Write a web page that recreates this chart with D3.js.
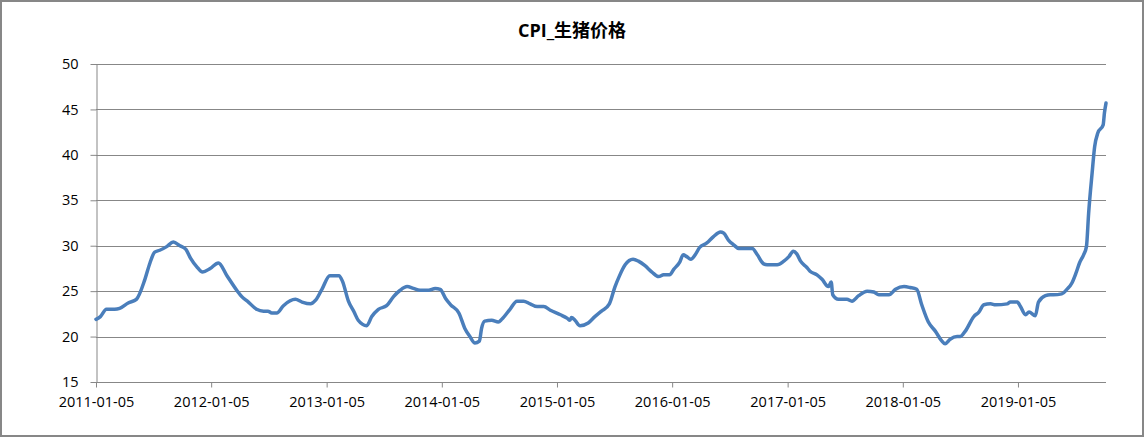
<!DOCTYPE html>
<html lang="zh">
<head>
<meta charset="utf-8">
<title>CPI_生猪价格</title>
<script src="https://d3js.org/d3.v7.min.js"></script>
<style>
  html, body { margin: 0; padding: 0; background: #fff; }
  svg text { font-family: "Open Sans", "Liberation Sans", sans-serif; fill: #000; }
  .grid line { stroke: #878787; stroke-width: 1; }
  .axis path, .axis line { stroke: #878787; }
</style>
</head>
<body>
<div id="chart"></div>
<script>
// weekly hog price
var dates = [
  "2011-01-05","2011-01-19","2011-02-07","2011-03-05","2011-03-21","2011-04-17","2011-05-13","2011-06-09",
  "2011-06-25","2011-07-10","2011-07-26","2011-08-17","2011-09-07","2011-09-28","2011-10-17","2011-11-01",
  "2011-11-20","2011-12-09","2012-01-02","2012-01-28","2012-02-24","2012-03-26","2012-04-11","2012-05-02",
  "2012-05-28","2012-06-19","2012-07-03","2012-07-15","2012-07-31","2012-08-21","2012-09-28","2012-10-19",
  "2012-11-15","2012-12-01","2012-12-21","2013-01-15","2013-02-13","2013-02-24","2013-03-15","2013-04-02",
  "2013-04-15","2013-05-12","2013-05-28","2013-06-18","2013-07-14","2013-08-05","2013-08-26","2013-09-17",
  "2013-10-07","2013-10-28","2013-11-24","2013-12-15","2013-12-31","2014-01-17","2014-02-02","2014-02-28",
  "2014-03-19","2014-04-04","2014-04-20","2014-05-04","2014-05-11","2014-05-21","2014-06-12","2014-07-03",
  "2014-07-14","2014-08-09","2014-08-31","2014-09-21","2014-10-12","2014-11-03","2014-11-24","2014-12-15",
  "2015-01-16","2015-02-07","2015-02-15","2015-02-20","2015-03-03","2015-03-19","2015-04-14","2015-05-05",
  "2015-05-26","2015-06-20","2015-07-08","2015-07-21","2015-08-09","2015-09-03","2015-09-20","2015-10-11",
  "2015-11-02","2015-11-23","2015-12-09","2015-12-28","2016-01-10","2016-01-29","2016-02-09","2016-02-20",
  "2016-03-04","2016-03-18","2016-04-01","2016-04-24","2016-05-15","2016-06-06","2016-06-16","2016-07-02",
  "2016-07-18","2016-08-03","2016-09-15","2016-10-01","2016-10-21","2016-11-01","2016-12-03","2016-12-24",
  "2017-01-09","2017-01-23","2017-02-03","2017-02-15","2017-03-07","2017-03-17","2017-04-08","2017-04-24",
  "2017-05-14","2017-05-23","2017-05-28","2017-06-15","2017-07-12","2017-07-28","2017-08-18","2017-09-14",
  "2017-10-05","2017-10-21","2017-11-22","2017-12-13","2018-01-09","2018-01-28","2018-02-18","2018-03-06",
  "2018-03-27","2018-04-18","2018-05-09","2018-05-19","2018-06-04","2018-06-26","2018-07-06","2018-07-22",
  "2018-08-18","2018-09-03","2018-09-19","2018-10-10","2018-10-26","2018-12-02","2018-12-12","2019-01-03",
  "2019-01-13","2019-01-29","2019-02-09","2019-03-01","2019-03-11","2019-04-02","2019-04-17","2019-04-27",
  "2019-05-24","2019-06-09","2019-06-25","2019-07-08","2019-07-19","2019-08-01","2019-08-10","2019-08-17",
  "2019-08-28","2019-09-05","2019-09-15","2019-10-02","2019-10-06","2019-10-11"
];
var prices = [
  21.9,22.2,23.0,23.0,23.1,23.7,24.1,26.3,
  28.1,29.3,29.5,29.9,30.4,30.0,29.6,28.6,
  27.7,27.1,27.5,28.1,26.7,25.1,24.4,23.8,
  23.0,22.8,22.8,22.6,22.6,23.4,24.1,23.8,
  23.6,24.0,25.2,26.7,26.7,26.1,23.9,22.7,
  21.8,21.2,22.2,23.0,23.4,24.4,25.1,25.5,
  25.3,25.1,25.1,25.3,25.2,24.2,23.5,22.6,
  20.9,20.0,19.3,19.5,20.9,21.7,21.8,21.6,
  21.9,23.0,23.9,23.9,23.6,23.3,23.3,22.9,
  22.4,22.0,21.8,22.1,21.8,21.2,21.5,22.2,
  22.8,23.6,25.5,26.6,27.9,28.5,28.3,27.8,
  27.1,26.6,26.8,26.8,27.4,28.2,29.0,28.8,
  28.5,29.0,29.8,30.3,31.0,31.5,31.4,30.6,
  30.1,29.7,29.7,29.0,28.0,27.9,27.9,28.3,
  28.8,29.4,29.1,28.3,27.6,27.2,26.8,26.3,
  25.5,26.0,24.6,24.1,24.1,23.9,24.5,25.0,
  24.9,24.6,24.6,25.2,25.5,25.4,25.2,23.5,
  21.6,20.6,19.5,19.2,19.7,20.0,20.0,20.6,
  22.2,22.7,23.5,23.6,23.5,23.6,23.8,23.8,
  23.3,22.4,22.7,22.3,23.8,24.5,24.6,24.6,
  24.7,25.2,25.9,27.0,28.1,29.0,29.9,33.6,
  38.0,40.9,42.4,43.3,44.6,45.7
];
var xTickLabels = ["2011-01-05","2012-01-05","2013-01-05","2014-01-05","2015-01-05",
                   "2016-01-05","2017-01-05","2018-01-05","2019-01-05"];
var yTickValues = [15, 20, 25, 30, 35, 40, 45, 50];
var title = "CPI_生猪价格";

var width = 1144, height = 437;
var margin = {top: 64, right: 38, bottom: 55, left: 96};

var parse = d3.timeParse("%Y-%m-%d");
var data = dates.map(function(d, i) { return {date: parse(d), value: prices[i]}; });

var svg = d3.select("#chart").append("svg")
    .attr("width", width)
    .attr("height", height);

// outer frame
svg.append("rect")
    .attr("x", 1).attr("y", 1)
    .attr("width", width - 2).attr("height", height - 2)
    .attr("fill", "#fff")
    .attr("stroke", "#878787")
    .attr("stroke-width", 2);

var x = d3.scaleTime()
    .domain(d3.extent(data, function(d) { return d.date; }))
    .range([margin.left, width - margin.right]);
var y = d3.scaleLinear()
    .domain([15, 50])
    .range([height - margin.bottom, margin.top]);

svg.append("text")
    .attr("x", 572).attr("y", 37)
    .attr("text-anchor", "middle")
    .style("font-size", "18px")
    .style("font-weight", "bold")
    .style("font-family", "'Open Sans', 'Noto Sans CJK SC', sans-serif")
    .text(title);

// horizontal gridlines
svg.append("g").attr("class", "grid")
  .selectAll("line")
  .data(yTickValues.slice(1))
  .enter().append("line")
    .attr("x1", margin.left).attr("x2", width - margin.right)
    .attr("y1", function(d) { return Math.round(y(d)) + 0.5; })
    .attr("y2", function(d) { return Math.round(y(d)) + 0.5; });

var yAxis = svg.append("g").attr("class", "axis")
    .attr("transform", "translate(" + (margin.left + 0.5) + ",0)")
    .call(d3.axisLeft(y).tickValues(yTickValues).tickSize(6).tickSizeOuter(0).tickPadding(12));
yAxis.selectAll("text").style("font-size", "14.5px");

var xAxis = svg.append("g").attr("class", "axis")
    .attr("transform", "translate(0," + (height - margin.bottom + 0.5) + ")")
    .call(d3.axisBottom(x)
      .tickValues(xTickLabels.map(parse))
      .tickFormat(d3.timeFormat("%Y-%m-%d"))
      .tickSize(5).tickSizeOuter(0).tickPadding(9));
xAxis.selectAll("text").style("font-size", "14.5px");
// extend axis line to the right edge of the plot
xAxis.select(".domain").attr("d", "M" + margin.left + ",0H" + (width - margin.right));

var line = d3.line()
    .x(function(d) { return x(d.date); })
    .y(function(d) { return y(d.value); })
    .curve(d3.curveMonotoneX);

svg.append("path")
    .datum(data)
    .attr("fill", "none")
    .attr("stroke", "#4a7ebb")
    .attr("stroke-width", 3.5)
    .attr("stroke-linejoin", "round")
    .attr("stroke-linecap", "round")
    .attr("d", line);
</script>
</body>
</html>
